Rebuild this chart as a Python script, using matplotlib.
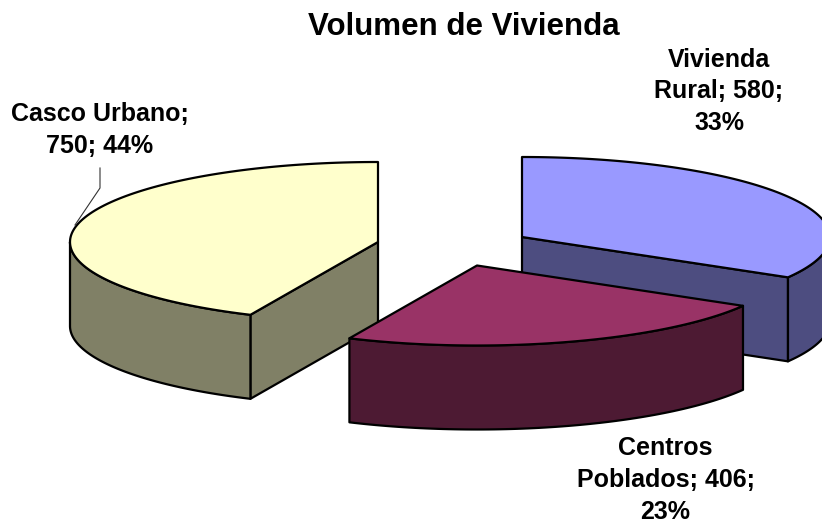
import numpy as np
import matplotlib
matplotlib.use('Agg')
import matplotlib.pyplot as plt

categories = ['Vivienda Rural', 'Centros Poblados', 'Casco Urbano']
values = [580, 406, 750]
pct_labels = ['33%', '23%', '44%']
top_colors = ['#9999FF', '#993366', '#FFFFCC']
side_colors = ['#4D4D80', '#4D1A33', '#808066']
label_texts = ['Vivienda\nRural; 580;\n33%', 'Centros\nPoblados; 406;\n23%', 'Casco Urbano;\n750; 44%']

# pixel layout of the exploded pie
centers = [(522, 237), (477, 265.5), (378, 242)]
label_pos = [(719, 91.5), (665.5, 480), (100, 130)]
rx = 308
ry = 80
depth = 84


def rim(cx, cy, t):
    t = np.radians(t)
    return cx + rx * np.sin(t), cy - ry * np.cos(t)


plt.rcParams['font.family'] = ['Liberation Sans', 'DejaVu Sans']
fig = plt.figure(figsize=(8.22, 5.24), dpi=100)
ax = fig.add_axes([0, 0, 1, 1])
ax.set_xlim(0, 822)
ax.set_ylim(524, 0)
ax.axis('off')

# angles run clockwise from 12 o'clock, as Excel does it
shares = np.array(values) / sum(values) * 360
starts = np.concatenate([[0], np.cumsum(shares)[:-1]])
ends = np.cumsum(shares)

# back slice first, the front one last
for i in [0, 2, 1]:
    cx, cy = centers[i]
    t1, t2 = starts[i], ends[i]
    style = dict(facecolor=side_colors[i], edgecolor='black', linewidth=1.6, joinstyle='round')

    # cut faces turned towards the viewer
    for t, normal in [(t1, t1 - 90), (t2, t2 + 90)]:
        if np.cos(np.radians(normal)) < -0.01:
            x, y = rim(cx, cy, t)
            ax.fill([cx, x, x, cx], [cy, y, y + depth, cy + depth], **style)

    # outer wall, only the front half of the ellipse shows
    a, b = max(t1, 90), min(t2, 270)
    if a < b:
        x, y = rim(cx, cy, np.linspace(a, b, 80))
        ax.fill(np.r_[x, x[::-1]], np.r_[y, y[::-1] + depth], **style)

    # top surface
    x, y = rim(cx, cy, np.linspace(t1, t2, 120))
    ax.fill(np.r_[cx, x], np.r_[cy, y], facecolor=top_colors[i], edgecolor='black',
            linewidth=1.6, joinstyle='round')

# leader line of Casco Urbano
ax.plot([100, 100, 75], [168, 188, 225], color='#333333', linewidth=0.8)

ax.text(464, 27, 'Volumen de Vivienda', ha='center', va='center', fontsize=22.5, fontweight='bold')
for i in range(3):
    ax.text(label_pos[i][0], label_pos[i][1], label_texts[i], ha='center', va='center',
            fontsize=18, fontweight='bold', linespacing=1.4)

fig.savefig('out.png', dpi=100)
